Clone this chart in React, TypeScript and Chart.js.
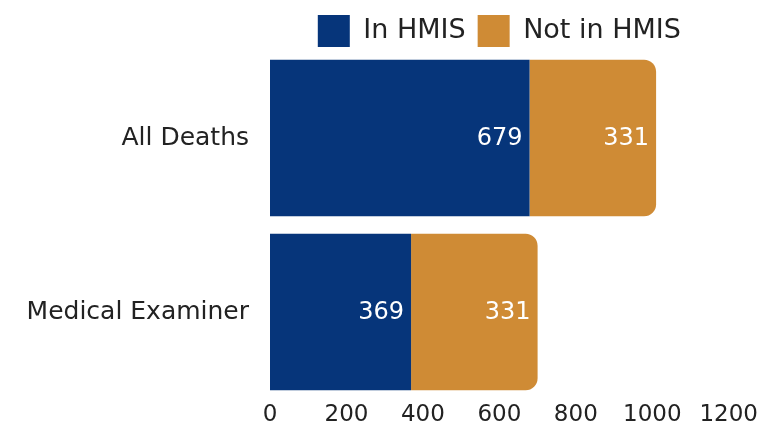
import React, { useEffect, useRef } from "react";
import { Chart, registerables } from "chart.js";

Chart.register(...registerables);

const categories = ["All Deaths", "Medical Examiner"];
const inHmis = [679, 369];
const notInHmis = [331, 331];
const seriesNames = ["In HMIS", "Not in HMIS"];
const xTicks = [0, 200, 400, 600, 800, 1000, 1200];

const BLUE = "#06357A";
const ORANGE = "#CF8B35";
const FONT = "'DejaVu Sans', sans-serif";

const valueLabels = {
  id: "valueLabels",
  beforeLayout(chart: any) {
    const lg = chart.legend;
    if (lg && !lg._patched) {
      const f = lg.fit.bind(lg);
      lg.fit = function () {
        f();
        this.height = 48;
      };
      lg._patched = true;
    }
  },
  afterDatasetsDraw(chart: any) {
    const ctx = chart.ctx;
    ctx.save();
    ctx.font = `24px ${FONT}`;
    ctx.fillStyle = "#ffffff";
    ctx.textAlign = "right";
    ctx.textBaseline = "middle";
    chart.data.datasets.forEach((ds: any, di: number) => {
      const meta = chart.getDatasetMeta(di);
      meta.data.forEach((el: any, i: number) => {
        const v = ds.data[i];
        ctx.fillText(String(v), el.x - 7, el.y + 1);
      });
    });
    ctx.restore();
  },
};

export default function App() {
  const ref = useRef<HTMLCanvasElement>(null);
  useEffect(() => {
    const chart = new Chart(ref.current!, {
      type: "bar",
      data: {
        labels: categories,
        datasets: [
          {
            label: seriesNames[0],
            data: inHmis,
            backgroundColor: BLUE,
            borderWidth: 0,
            barPercentage: 0.9,
            categoryPercentage: 1,
          },
          {
            label: seriesNames[1],
            data: notInHmis,
            backgroundColor: ORANGE,
            borderWidth: 0,
            borderSkipped: false,
            borderRadius: { topLeft: 0, bottomLeft: 0, topRight: 12, bottomRight: 12 },
            barPercentage: 0.9,
            categoryPercentage: 1,
          },
        ],
      },
      options: {
        indexAxis: "y",
        responsive: false,
        animation: false,
        layout: { padding: { top: 3, right: 31, left: 0, bottom: 0 } },
        plugins: {
          legend: {
            position: "top",
            align: "center",
            fullSize: false,
            labels: {
              boxWidth: 32,
              boxHeight: 32,
              padding: 12,
              color: "#222",
              font: { family: FONT, size: 27 },
            },
          },
          tooltip: { enabled: false },
        },
        scales: {
          x: {
            stacked: true,
            min: 0,
            max: 1200,
            afterBuildTicks: (axis: any) => {
              axis.ticks = xTicks.map((v) => ({ value: v }));
            },
            afterFit: (axis: any) => {
              axis.height = 24;
            },
            grid: { display: false, drawTicks: false },
            border: { display: false },
            ticks: {
              color: "#222",
              font: { family: FONT, size: 23 },
              maxRotation: 0,
              autoSkip: false,
              padding: 2,
              callback: (v: any) => String(v),
            },
          },
          y: {
            stacked: true,
            afterFit: (axis: any) => {
              axis.width = 270;
              axis.paddingTop = 0;
              axis.paddingBottom = 0;
            },
            grid: { display: false, drawTicks: false },
            border: { display: false },
            ticks: {
              color: "#222",
              font: { family: FONT, size: 25 },
              padding: 21,
            },
          },
        },
      },
      plugins: [valueLabels],
    } as any);
    return () => chart.destroy();
  }, []);
  return (
    <div style={{ position: "fixed", left: 0, top: 0, width: 760, height: 423, background: "#fff" }}>
      <canvas ref={ref} width={760} height={423} />
    </div>
  );
}
